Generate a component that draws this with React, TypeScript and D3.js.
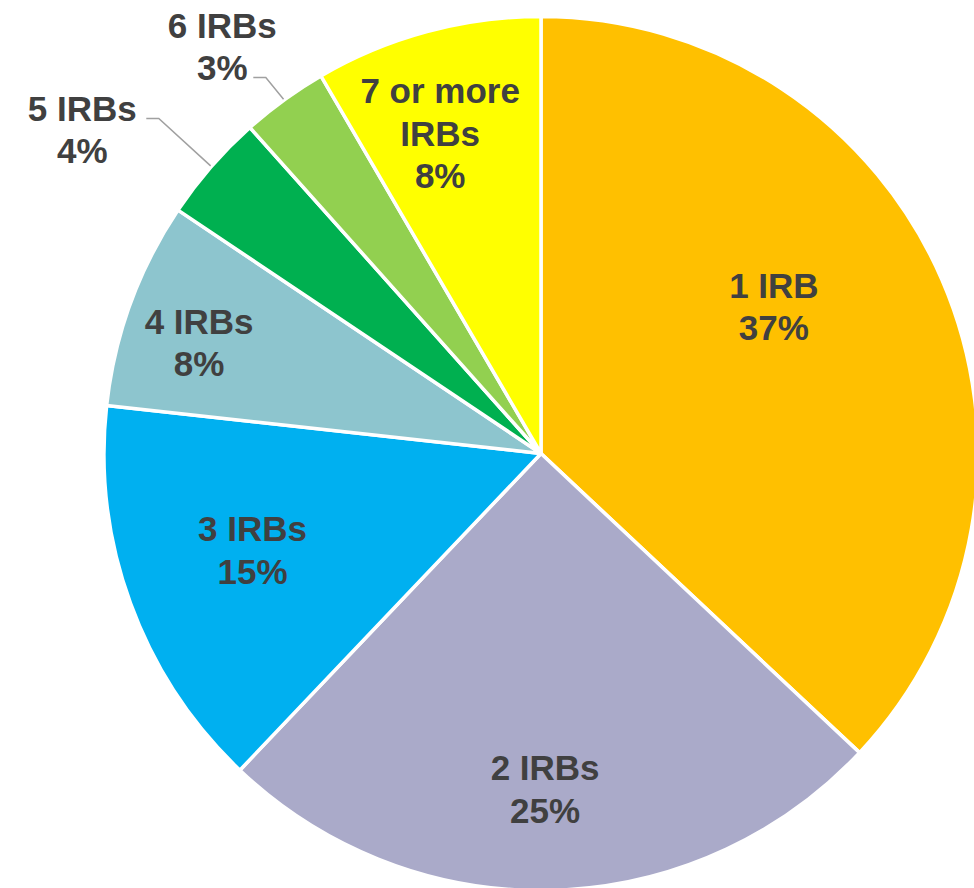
import React from "react";
import * as d3 from "d3";

// ---- data ----
const categories = ["1 IRB", "2 IRBs", "3 IRBs", "4 IRBs", "5 IRBs", "6 IRBs", "7 or more IRBs"];
const labelLines = [["1 IRB"], ["2 IRBs"], ["3 IRBs"], ["4 IRBs"], ["5 IRBs"], ["6 IRBs"], ["7 or more", "IRBs"]];
const values = [37.0, 25.1, 14.65, 7.65, 4.0, 3.2, 8.4];
const colors = ["#FFC000", "#AAAAC9", "#00B0F0", "#8DC5CE", "#00B050", "#92D050", "#FFFF00"];

// ---- label layout (angle in degrees clockwise from top, radius as fraction of label base radius) ----
const labelAngle = [57.8, 179.3, 251.4, 287.9, 305.2, 321.9, 342.5];
const labelRadius = [0.632, 0.772, 0.699, 0.825, 1.289, 1.186, 0.77];
// leader line start offsets relative to label centre (null = no leader)
const leaderStart: ([number, number] | null)[] = [null, null, null, null, [64, -11], [31, 31], null];

const W = 974;
const H = 888;
const cx = 541;
const cy = 453.5;
const R = 437;
const LABEL_R = 435.5;
const FONT = 35;
const CAP = 25;
const LH = 42.5;

export default function App() {
  const total = d3.sum(values);
  const pie = d3
    .pie<number>()
    .sort(null)
    .value((d) => d)
    .startAngle(0)
    .endAngle(2 * Math.PI);
  const arcs = pie(values);
  const arc = d3.arc<d3.PieArcDatum<number>>().innerRadius(0).outerRadius(R);
  const outerArc = d3.arc<d3.PieArcDatum<number>>().innerRadius(R + 1).outerRadius(R + 1);

  return (
    <svg
      width={W}
      height={H}
      viewBox={`0 0 ${W} ${H}`}
      style={{ position: "absolute", left: 0, top: 0, display: "block", background: "#fff" }}
    >
      <g transform={`translate(${cx},${cy})`}>
        {arcs.map((a, i) => (
          <path
            key={categories[i]}
            d={arc(a) || ""}
            fill={colors[i]}
            stroke="#ffffff"
            strokeWidth={3.5}
            strokeLinejoin="round"
          />
        ))}
        {arcs.map((a, i) => {
          const ang = (labelAngle[i] * Math.PI) / 180;
          const lx = Math.sin(ang) * LABEL_R * labelRadius[i];
          const ly = -Math.cos(ang) * LABEL_R * labelRadius[i] - 0.5;
          const lines = [...labelLines[i], `${Math.round((values[i] / total) * 100)}%`];
          const n = lines.length;
          const firstBaseline = ly - (CAP + (n - 1) * LH) / 2 + CAP;
          const ls = leaderStart[i];
          let leader: React.ReactNode = null;
          if (ls) {
            const mid = (a.startAngle + a.endAngle) / 2;
            const probe = { ...a, startAngle: mid, endAngle: mid };
            const [ex, ey] = outerArc.centroid(probe);
            const sx = lx + ls[0];
            const sy = ly + ls[1];
            const elbowX = sx + 12.5;
            leader = (
              <polyline
                points={`${sx},${sy} ${elbowX},${sy} ${ex},${ey}`}
                fill="none"
                stroke="#A0A0A0"
                strokeWidth={1.5}
              />
            );
          }
          return (
            <g key={"lab" + i}>
              {leader}
              <text
                textAnchor="middle"
                fontFamily="'Liberation Sans', Arial, sans-serif"
                fontWeight="bold"
                fontSize={FONT}
                fill="#404040"
              >
                {lines.map((t, j) => (
                  <tspan key={j} x={lx} y={firstBaseline + j * LH}>
                    {t}
                  </tspan>
                ))}
              </text>
            </g>
          );
        })}
      </g>
    </svg>
  );
}
